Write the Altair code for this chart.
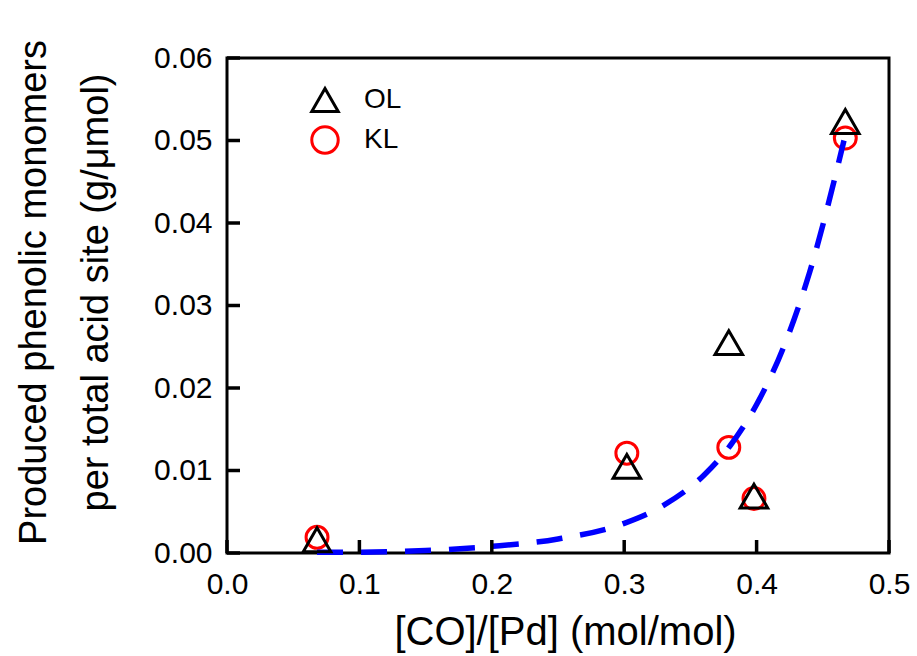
import altair as alt
import pandas as pd

# CO/Pd molar ratio of each catalyst and the phenolic monomer yield per acid site
ratio = [0.068, 0.302, 0.379, 0.398, 0.467]
ol_yield = [0.0016, 0.0105, 0.0255, 0.0069, 0.0523]
kl_yield = [0.0019, 0.0121, 0.0128, 0.0066, 0.0503]

# dashed trend curve through the KL data
fit_ratio = [0.068, 0.10, 0.15, 0.20, 0.25, 0.30, 0.33, 0.36, 0.38, 0.40, 0.42, 0.44, 0.466]
fit_yield = [0.0001, 0.0001, 0.0003, 0.0008, 0.0017, 0.0036, 0.0058, 0.0094,
             0.0130, 0.0180, 0.0248, 0.0340, 0.0500]

x_ticks = [0.0, 0.1, 0.2, 0.3, 0.4, 0.5]
y_ticks = [0.00, 0.01, 0.02, 0.03, 0.04, 0.05, 0.06]

X_MAX, Y_MAX = 0.5, 0.06
W, H = 662, 495
TICK_LEN = 13

points = pd.DataFrame({
    "ratio": ratio + ratio,
    "yield": ol_yield + kl_yield,
    "lignin": ["OL"] * len(ratio) + ["KL"] * len(ratio),
})
fit = pd.DataFrame({"ratio": fit_ratio, "yield": fit_yield})
# tick segments: each reaches TICK_LEN pixels into the frame
xt = pd.DataFrame({"ratio": x_ticks, "y0": 0.0, "y1": Y_MAX * TICK_LEN / H})
yt = pd.DataFrame({"yield": y_ticks, "x0": 0.0, "x1": X_MAX * TICK_LEN / W})

FONT = "Liberation Sans"
TICK_FS = 30
TITLE_FS = 38

x_scale = alt.Scale(domain=[0, X_MAX], nice=False, zero=False)
y_scale = alt.Scale(domain=[0, Y_MAX], nice=False, zero=False)
color_scale = alt.Scale(domain=["OL", "KL"], range=["#000000", "#ff0000"])
shape_scale = alt.Scale(domain=["OL", "KL"], range=["triangle-up", "circle"])

x_axis = alt.Axis(
    orient="bottom", values=x_ticks, format=".1f", ticks=False, domain=False,
    grid=False, labelFlush=False, labelOverlap=False,
    labelFont=FONT, labelFontSize=TICK_FS, labelColor="black", labelPadding=16,
    title="[CO]/[Pd] (mol/mol)", titleFont=FONT, titleFontSize=40,
    titleFontWeight="normal", titleColor="black",
    titleX=338, titleY=91, titleAlign="center", titleBaseline="alphabetic",
)
y_axis = alt.Axis(
    orient="left", values=y_ticks, format=".2f", ticks=False, domain=False,
    grid=False, labelFlush=False, labelOverlap=False,
    labelFont=FONT, labelFontSize=TICK_FS, labelColor="black", labelPadding=15,
    title=["Produced phenolic monomers", "per total acid site (g/\u03bcmol)"],
    titleFont=FONT, titleFontSize=TITLE_FS, titleFontWeight="normal",
    titleColor="black", titleLineHeight=62, titleAngle=270,
    titleX=-182, titleY=234, titleAlign="center", titleBaseline="alphabetic",
)

legend = alt.Legend(
    orient="none", legendX=83, legendY=27, title=None, labelFont=FONT,
    labelFontSize=28, labelColor="black", symbolSize=700, symbolStrokeWidth=3,
    symbolFillColor="transparent", rowPadding=2, labelOffset=24, padding=0,
)

x_tick_marks = alt.Chart(xt).mark_rule(color="#000000", strokeWidth=3.5).encode(
    x=alt.X("ratio:Q", scale=x_scale, axis=x_axis),
    y=alt.Y("y0:Q", scale=y_scale, axis=y_axis),
    y2="y1:Q",
)
y_tick_marks = alt.Chart(yt).mark_rule(color="#000000", strokeWidth=3.5).encode(
    y=alt.Y("yield:Q", scale=y_scale, axis=y_axis),
    x=alt.X("x0:Q", scale=x_scale, axis=x_axis),
    x2="x1:Q",
)

kl_layer = alt.Chart(points).transform_filter(
    alt.datum.lignin == "KL"
).mark_point(filled=False, strokeWidth=3, size=480, opacity=1).encode(
    x=alt.X("ratio:Q", scale=x_scale, axis=x_axis),
    y=alt.Y("yield:Q", scale=y_scale, axis=y_axis),
    color=alt.Color("lignin:N", scale=color_scale, legend=legend),
    shape=alt.Shape("lignin:N", scale=shape_scale, legend=legend),
)

curve = alt.Chart(fit).mark_line(
    color="#0000ff", strokeWidth=5.5, strokeDash=[26, 18], interpolate="monotone"
).encode(
    x=alt.X("ratio:Q", scale=x_scale, axis=x_axis),
    y=alt.Y("yield:Q", scale=y_scale, axis=y_axis),
)

ol_layer = alt.Chart(points).transform_filter(
    alt.datum.lignin == "OL"
).mark_point(filled=False, strokeWidth=3, size=760, opacity=1).encode(
    x=alt.X("ratio:Q", scale=x_scale, axis=x_axis),
    y=alt.Y("yield:Q", scale=y_scale, axis=y_axis),
    color=alt.Color("lignin:N", scale=color_scale, legend=legend),
    shape=alt.Shape("lignin:N", scale=shape_scale, legend=legend),
)

chart = alt.layer(kl_layer, curve, ol_layer, x_tick_marks, y_tick_marks).properties(
    width=W, height=H,
    padding={"left": 227, "top": 58, "right": 28, "bottom": 103},
    autosize=alt.AutoSizeParams(type="none"),
    background="white",
).configure_view(
    stroke="black", strokeWidth=3
)

chart.save("out.html", embed_options={"renderer": "svg", "actions": False})
